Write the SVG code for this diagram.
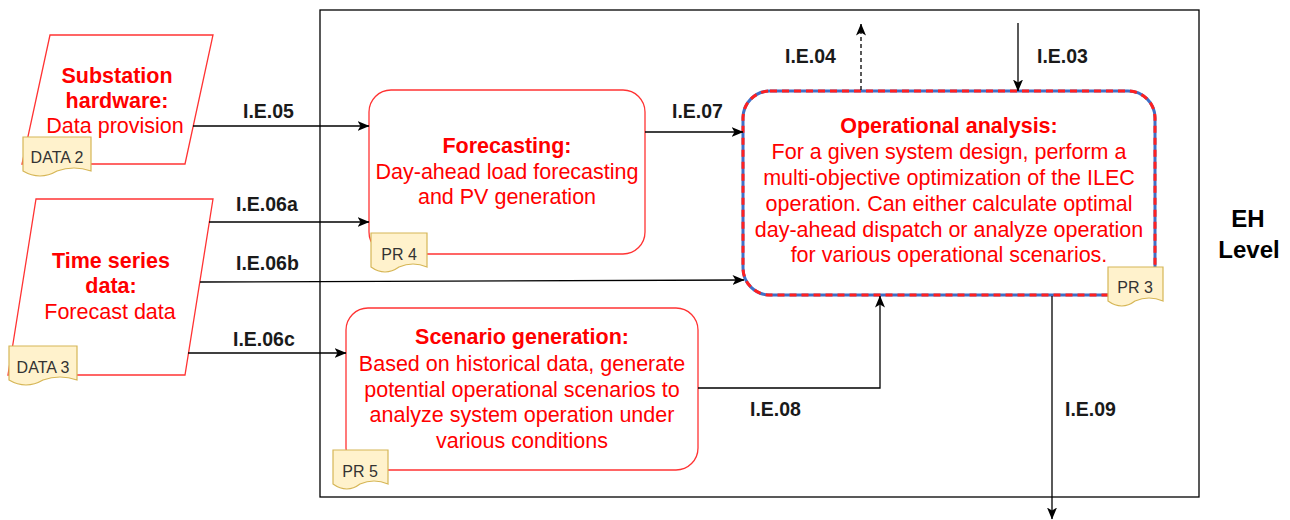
<svg xmlns="http://www.w3.org/2000/svg" width="1290" height="520" viewBox="0 0 1290 520">
  <defs>
    <marker id="arrow" markerUnits="userSpaceOnUse" viewBox="0 0 12 10" refX="11.5" refY="5" markerWidth="12" markerHeight="10" orient="auto">
      <path d="M0,0 L12,5 L0,10 L3,5 Z" fill="#000"/>
    </marker>
    <style>
      .frame { fill: none; stroke: #000; stroke-width: 1.3; }
      .box { fill: #fff; stroke: #ff3333; stroke-width: 1.3; }
      .title { font-family: "Liberation Sans", Arial, sans-serif; font-size: 21.5px; font-weight: bold; fill: #ff0000; text-anchor: middle; }
      .body { font-family: "Liberation Sans", Arial, sans-serif; font-size: 21.5px; fill: #ff0000; text-anchor: middle; }
      .tag { fill: #fff2cc; stroke: #d6b656; stroke-width: 1.2; }
      .tagtext { font-family: "Liberation Sans", Arial, sans-serif; font-size: 16px; fill: #333; text-anchor: middle; }
      .lbl { font-family: "Liberation Sans", Arial, sans-serif; font-size: 19.5px; font-weight: bold; fill: #1a1a1a; }
      .level { font-family: "Liberation Sans", Arial, sans-serif; font-size: 24px; font-weight: bold; fill: #000; text-anchor: middle; }
      .wire { fill: none; stroke: #000; stroke-width: 1.3; marker-end: url(#arrow); }
    </style>
  </defs>

  <rect width="1290" height="520" fill="#fff"/>

  <!-- EH level frame -->
  <rect class="frame" x="320" y="10" width="879" height="487"/>
  <text class="level" x="1248" y="227">EH</text>
  <text class="level" x="1249" y="258">Level</text>

  <!-- Substation hardware data -->
  <g id="data2">
    <polygon class="box" points="50,35 213,35 185,164 22,164"/>
    <text class="title" x="117" y="83">Substation</text>
    <text class="title" x="117" y="108">hardware:</text>
    <text class="body" x="115" y="133">Data provision</text>
    <path class="tag" d="M23,137 H91 V171 Q74,165 57,171 Q40,181 23,171 Z"/>
    <text class="tagtext" x="57" y="163">DATA 2</text>
  </g>

  <!-- Time series data -->
  <g id="data3">
    <polygon class="box" points="36,199 213,199 185,375 8,375"/>
    <text class="title" x="111" y="268">Time series</text>
    <text class="title" x="111" y="293">data:</text>
    <text class="body" x="110" y="319">Forecast data</text>
    <path class="tag" d="M9,346 H77 V380 Q60,374 43,380 Q26,390 9,380 Z"/>
    <text class="tagtext" x="43" y="373">DATA 3</text>
  </g>

  <!-- Forecasting process -->
  <g id="pr4">
    <rect class="box" x="369" y="90" width="276" height="164" rx="22"/>
    <text class="title" x="507" y="153">Forecasting:</text>
    <text class="body" x="507" y="179">Day-ahead load forecasting</text>
    <text class="body" x="507" y="204">and PV generation</text>
    <path class="tag" d="M371,233 H427 V267 Q413,261 399,267 Q385,277 371,267 Z"/>
    <text class="tagtext" x="399" y="260">PR 4</text>
  </g>

  <!-- Scenario generation process -->
  <g id="pr5">
    <rect class="box" x="346" y="308" width="352" height="162" rx="22"/>
    <text class="title" x="522" y="344">Scenario generation:</text>
    <text class="body" x="522" y="371">Based on historical data, generate</text>
    <text class="body" x="522" y="397">potential operational scenarios to</text>
    <text class="body" x="522" y="422">analyze system operation under</text>
    <text class="body" x="522" y="448">various conditions</text>
    <path class="tag" d="M333,450 H388 V484 Q374,478 360,484 Q347,494 333,484 Z"/>
    <text class="tagtext" x="360" y="477">PR 5</text>
  </g>

  <!-- Operational analysis process -->
  <g id="pr3">
    <rect x="743" y="91" width="412" height="204" rx="27" fill="#fff" stroke="#3f6fc6" stroke-width="3"/>
    <rect x="743" y="91" width="412" height="204" rx="27" fill="none" stroke="#ff2020" stroke-width="3" stroke-dasharray="7 5"/>
    <text class="title" x="949" y="133">Operational analysis:</text>
    <text class="body" x="949" y="159">For a given system design, perform a</text>
    <text class="body" x="949" y="185">multi-objective optimization of the ILEC</text>
    <text class="body" x="949" y="211">operation. Can either calculate optimal</text>
    <text class="body" x="949" y="237">day-ahead dispatch or analyze operation</text>
    <text class="body" x="949" y="262">for various operational scenarios.</text>
    <path class="tag" d="M1108,267 H1163 V301 Q1149,295 1135,301 Q1122,311 1108,301 Z"/>
    <text class="tagtext" x="1135" y="293">PR 3</text>
  </g>

  <!-- Connectors -->
  <g id="connectors">
    <path class="wire" d="M193,126 H369"/>
    <path class="wire" d="M209,222 H369"/>
    <path class="wire" d="M200,282 L744,280"/>
    <path class="wire" d="M188,353 H346"/>
    <path class="wire" d="M645,132 H743"/>
    <path class="wire" d="M861,90 V24" stroke-dasharray="4 3"/>
    <path class="wire" d="M1018,23 V91"/>
    <path class="wire" d="M698,388 H880 V296"/>
    <path class="wire" d="M1052,296 V519"/>

    <text class="lbl" x="243" y="118">I.E.05</text>
    <text class="lbl" x="236" y="211">I.E.06a</text>
    <text class="lbl" x="236" y="270">I.E.06b</text>
    <text class="lbl" x="233" y="346">I.E.06c</text>
    <text class="lbl" x="672" y="118">I.E.07</text>
    <text class="lbl" x="785" y="63">I.E.04</text>
    <text class="lbl" x="1037" y="63">I.E.03</text>
    <text class="lbl" x="750" y="416">I.E.08</text>
    <text class="lbl" x="1065" y="416">I.E.09</text>
  </g>
</svg>
